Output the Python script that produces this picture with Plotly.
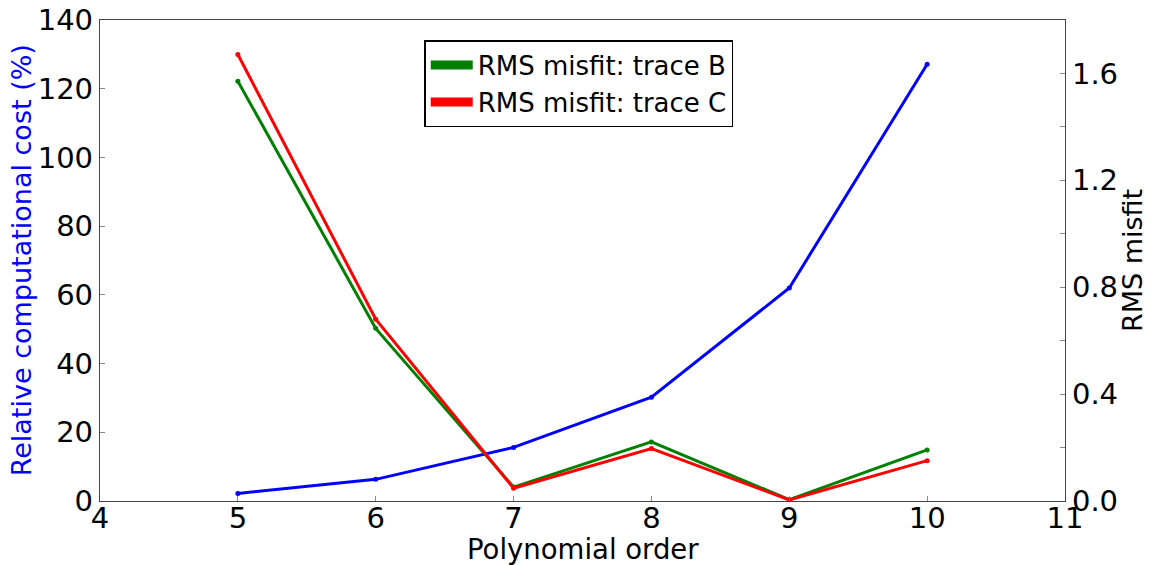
import plotly.graph_objects as go

orders = [5, 6, 7, 8, 9, 10]
cost_pct = [2.2, 6.3, 15.6, 30.2, 62.0, 127.1]
rms_b = [1.571, 0.646, 0.052, 0.221, 0.005, 0.191]
rms_c = [1.671, 0.680, 0.048, 0.196, 0.004, 0.151]

x_ticks = [4, 5, 6, 7, 8, 9, 10, 11]
left_ticks = [0, 20, 40, 60, 80, 100, 120, 140]
right_ticks = [0.0, 0.2, 0.4, 0.6, 0.8, 1.0, 1.2, 1.4, 1.6]
right_text = ["0.0", "", "0.4", "", "0.8", "", "1.2", "", "1.6"]

FONT = "DejaVu Sans"

fig = go.Figure()
fig.add_trace(go.Scatter(x=orders, y=cost_pct, mode="lines+markers",
                         line=dict(color="#0000ff", width=3),
                         marker=dict(size=5, color="#0000ff"),
                         showlegend=False, yaxis="y"))
fig.add_trace(go.Scatter(x=orders, y=rms_b, mode="lines+markers",
                         line=dict(color="#008000", width=3),
                         marker=dict(size=5, color="#008000"),
                         showlegend=False, yaxis="y2"))
fig.add_trace(go.Scatter(x=orders, y=rms_c, mode="lines+markers",
                         line=dict(color="#ff0000", width=3),
                         marker=dict(size=5, color="#ff0000"),
                         showlegend=False, yaxis="y2"))
# legend entries
fig.add_trace(go.Scatter(x=[None], y=[None], mode="lines", name="RMS misfit: trace B",
                         line=dict(color="#008000", width=9), yaxis="y2"))
fig.add_trace(go.Scatter(x=[None], y=[None], mode="lines", name="RMS misfit: trace C",
                         line=dict(color="#ff0000", width=9), yaxis="y2"))

axis_common = dict(showline=True, linecolor="#444444", linewidth=1.3,
                   ticks="inside", ticklen=5, tickcolor="#888888",
                   showgrid=False, zeroline=False, automargin=False,
                   tickfont=dict(family=FONT, size=29, color="black"))

fig.update_layout(
    width=1154, height=565,
    margin=dict(l=100, r=89, t=20, b=64, autoexpand=False),
    paper_bgcolor="white", plot_bgcolor="white",
    font=dict(family=FONT, color="black"),
    xaxis=dict(range=[4, 11], tickvals=x_ticks, mirror=True,
               ticklabelstandoff=-9, **axis_common),
    yaxis=dict(range=[0, 140], tickvals=left_ticks, **axis_common),
    yaxis2=dict(range=[0, 1.8], tickvals=right_ticks, ticktext=right_text,
                overlaying="y", side="right", anchor="x", **axis_common),
    legend=dict(x=0.336, y=0.958, xanchor="left", yanchor="top",
                bgcolor="white", bordercolor="black", borderwidth=1.5,
                font=dict(family=FONT, size=26), itemwidth=42,
                tracegroupgap=0),
    annotations=[
        dict(text="Polynomial order", xref="paper", yref="paper",
             x=0.5, y=-0.062, xanchor="center", yanchor="top", showarrow=False,
             font=dict(family=FONT, size=27.5, color="black")),
        dict(text="Relative computational cost (%)", xref="paper", yref="paper",
             x=-0.081, y=0.5, xanchor="center", yanchor="middle", textangle=-90,
             showarrow=False, font=dict(family=FONT, size=27, color="#0000ff")),
        dict(text="RMS misfit", xref="paper", yref="paper",
             x=1.07, y=0.5, xanchor="center", yanchor="middle", textangle=-90,
             showarrow=False, font=dict(family=FONT, size=27, color="black")),
    ],
)

fig.write_html("out.html", config={"displayModeBar": False},
               post_script="document.body.style.margin='0';document.body.style.overflow='hidden';")
